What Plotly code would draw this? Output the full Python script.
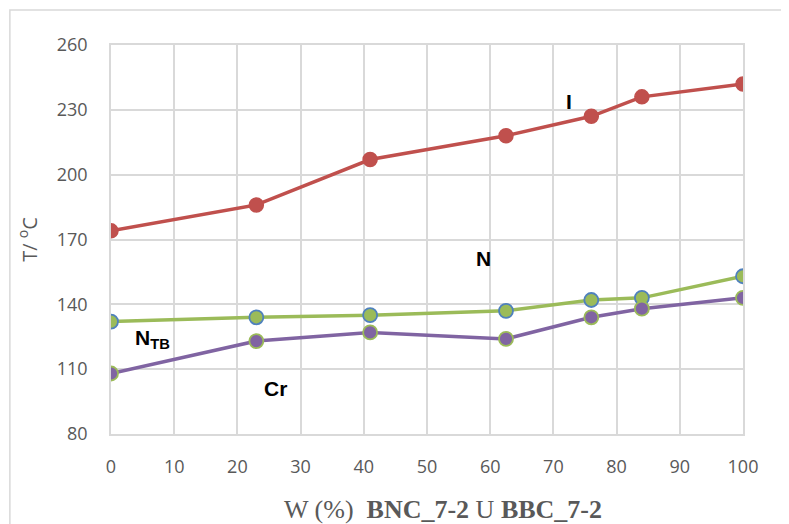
import plotly.graph_objects as go

# composition W (%) of BNC_7-2 in mixture
w = [0, 23, 41, 62.5, 76, 84, 100]

# transition temperatures, degC
t_i = [174, 186, 207, 218, 227, 236, 242]
t_n = [132, 134, 135, 137, 142, 143, 153]
t_cr = [108, 123, 127, 124, 134, 138, 143]

x_ticks = [0, 10, 20, 30, 40, 50, 60, 70, 80, 90, 100]
y_ticks = [80, 110, 140, 170, 200, 230, 260]

fig = go.Figure()
fig.add_trace(go.Scatter(
    x=w, y=t_i, mode="lines+markers",
    line=dict(color="#C0504D", width=3.5),
    marker=dict(size=14, color="#C0504D", line=dict(color="#C0504D", width=1.5)),
))
fig.add_trace(go.Scatter(
    x=w, y=t_n, mode="lines+markers",
    line=dict(color="#9BBB59", width=3.5),
    marker=dict(size=14, color="#9BBB59", line=dict(color="#4F81BD", width=1.8)),
))
fig.add_trace(go.Scatter(
    x=w, y=t_cr, mode="lines+markers",
    line=dict(color="#8064A2", width=3.5),
    marker=dict(size=14, color="#8064A2", line=dict(color="#9BBB59", width=1.8)),
))

# phase labels
labels = [("I", 72.5, 234), ("N", 59, 161), ("N<sub>TB</sub>", 6.5, 124), ("Cr", 26, 101)]
for text, lx, ly in labels:
    fig.add_annotation(
        x=lx, y=ly, text=f"<b>{text}</b>", showarrow=False,
        font=dict(family="Liberation Sans, Arial", size=21, color="black"),
    )

# x-axis title, placed by hand so the plot area keeps its size
fig.add_annotation(
    xref="paper", yref="paper", x=0.525, y=-0.195, yanchor="middle",
    text="W (%)  <b>BNC_7-2</b> U <b>BBC_7-2</b>", showarrow=False,
    font=dict(family="Liberation Serif, Times New Roman", size=26, color="#595959"),
)

# outer chart frame
fig.add_shape(
    type="rect", xref="paper", yref="paper",
    x0=-0.16, x1=1.2, y0=-0.4, y1=1.09,
    line=dict(color="#D9D9D9", width=1.5), layer="below",
)

fig.update_xaxes(
    range=[0, 100], tickvals=x_ticks,
    showgrid=True, gridcolor="#D9D9D9", gridwidth=1.5,
    showline=True, linecolor="#D9D9D9", linewidth=1.5, mirror=True,
    zeroline=False, ticks="outside", ticklen=16, tickcolor="rgba(0,0,0,0)",
    tickfont=dict(family="Open Sans, Arial", size=18, color="#595959"),
    automargin=False,
)
fig.update_yaxes(
    range=[80, 260], tickvals=y_ticks,
    showgrid=True, gridcolor="#D9D9D9", gridwidth=1.5,
    showline=True, linecolor="#D9D9D9", linewidth=1.5, mirror=True,
    zeroline=False, ticks="outside", ticklen=18, tickcolor="rgba(0,0,0,0)",
    tickfont=dict(family="Open Sans, Arial", size=18, color="#595959"),
    title=dict(
        text="T/ <sup>o</sup>C",
        font=dict(family="Open Sans, Arial", size=20, color="#595959"),
        standoff=14,
    ),
)

fig.update_layout(
    width=781, height=516,
    margin=dict(l=103, r=46, t=37, b=90),
    plot_bgcolor="white", paper_bgcolor="white",
    showlegend=False,
)

fig.write_html("out.html")
